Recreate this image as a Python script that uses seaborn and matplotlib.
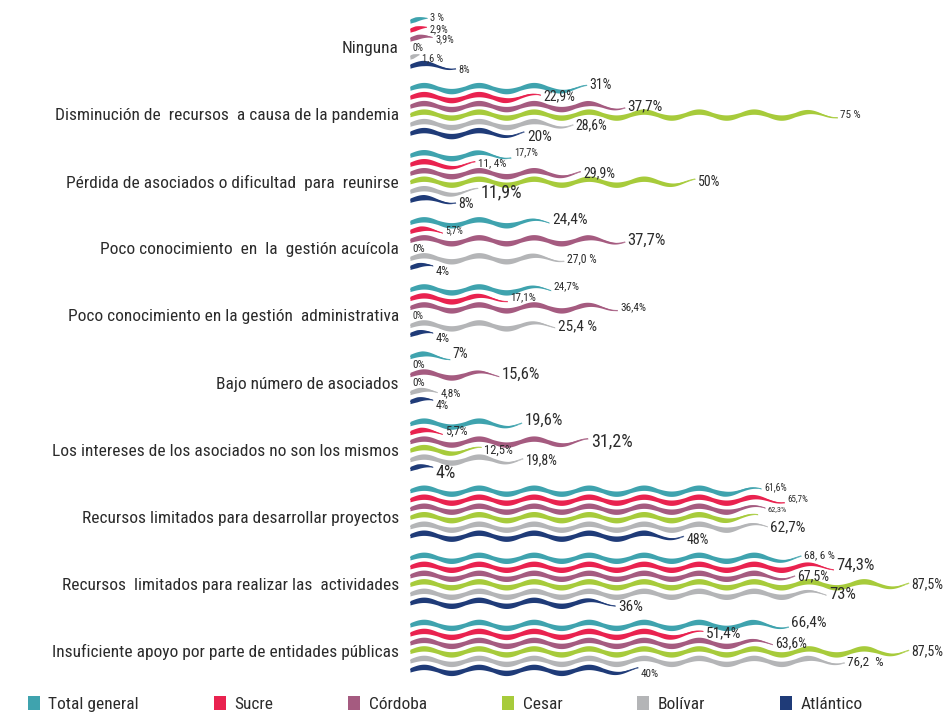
import numpy as np
import pandas as pd
import matplotlib
matplotlib.use("Agg")
import matplotlib.pyplot as plt
from matplotlib import font_manager
from matplotlib.patches import Patch
import seaborn as sns

# ---------------------------------------------------------------- data
categories = [
    "Ninguna",
    "Disminución de  recursos  a causa de la pandemia",
    "Pérdida de asociados o dificultad  para  reunirse",
    "Poco conocimiento  en  la  gestión acuícola",
    "Poco conocimiento en la gestión  administrativa",
    "Bajo número de asociados",
    "Los intereses de los asociados no son los mismos",
    "Recursos limitados para desarrollar proyectos",
    "Recursos  limitados para realizar las  actividades",
    "Insuficiente apoyo por parte de entidades públicas",
]
series = ["Total general", "Sucre", "Córdoba", "Cesar", "Bolívar", "Atlántico"]

total_general = [3, 31, 17.7, 24.4, 24.7, 7, 19.6, 61.6, 68.6, 66.4]
sucre = [2.9, 22.9, 11.4, 5.7, 17.1, 0, 5.7, 65.7, 74.3, 51.4]
cordoba = [3.9, 37.7, 29.9, 37.7, 36.4, 15.6, 31.2, 62.3, 67.5, 63.6]
cesar = [0, 75, 50, 0, 0, 0, 12.5, 61.0, 87.5, 87.5]
bolivar = [1.6, 28.6, 11.9, 27.0, 25.4, 4.8, 19.8, 62.7, 73, 76.2]
atlantico = [8, 20, 8, 4, 4, 4, 4, 48, 36, 40]

total_labels = ["3 %", "31%", "17,7%", "24,4%", "24,7%", "7%", "19,6%", "61,6%", "68, 6 %", "66,4%"]
sucre_labels = ["2,9%", "22,9%", "11, 4%", "5,7%", "17,1%", "0%", "5,7%", "65,7%", "74,3%", "51,4%"]
cordoba_labels = ["3,9%", "37,7%", "29,9%", "37,7%", "36,4%", "15,6%", "31,2%", "62,3%", "67,5%", "63,6%"]
cesar_labels = ["0%", "75 %", "50%", "0%", "0%", "0%", "12,5%", "", "87,5%", "87,5%"]
bolivar_labels = ["1,6 %", "28,6%", "11,9%", "27,0 %", "25,4 %", "4,8%", "19,8%", "62,7%", "73%", "76,2  %"]
atlantico_labels = ["8%", "20%", "8%", "4%", "4%", "4%", "4%", "48%", "36%", "40%"]

values = [total_general, sucre, cordoba, cesar, bolivar, atlantico]
labels = [total_labels, sucre_labels, cordoba_labels, cesar_labels, bolivar_labels, atlantico_labels]

# ---------------------------------------------------------------- style
colors = ["#3fa3ae", "#e9224f", "#a55b80", "#a7cb3b", "#b4b5b7", "#1f3b78"]

# font size (pt) of each value label, per series and category
label_pt = [
    [7.5, 10, 7.5, 11, 8, 10, 12, 7, 8, 11],
    [7.5, 10, 8, 7, 8, 8, 9, 6.5, 12, 11],
    [7.5, 11, 10, 12, 8, 12, 13, 6, 10, 10],
    [7, 8, 10, 8, 7, 8, 9, 8, 10, 10],
    [7.5, 10, 13, 8.5, 11, 8, 10, 11, 12, 9.5],
    [7.5, 11, 10, 9, 9, 8.5, 13, 10, 11, 8],
]
# vertical shift (px, downwards) of the value labels of each series
label_shift_px = [-3, -1, 0, 0, 1, 4]

sns.set_theme(style="white")
avail = {f.name for f in font_manager.fontManager.ttflist}
family = next((f for f in ["Liberation Sans Narrow", "Roboto Condensed", "DejaVu Sans"] if f in avail), "DejaVu Sans")
plt.rcParams["font.family"] = [family, "DejaVu Sans"]
text_color = "#2b2b2b"

W, H, DPI = 944, 720, 100
fig = plt.figure(figsize=(W / DPI, H / DPI), dpi=DPI)

# plotting area: from the left edge of the bars to the right edge, top of figure down to the legend strip
ax_left, ax_bottom_px = 410, 40
ax = fig.add_axes([ax_left / W, ax_bottom_px / H, 1 - ax_left / W, 1 - ax_bottom_px / H])

px_per_pct = 5.7
group_px = 67.1
first_center_px = 47
axes_h_px = H - ax_bottom_px
xmax = (W - ax_left) / px_per_pct
y_top = -first_center_px / group_px
y_bot = (axes_h_px - first_center_px) / group_px

offsets_px = [-26, -17, -8, 0.5, 10, 19]
period_px = 55.0
amp_px = 3.0
half_w_px = 2.7

rows = []
for si, (vals, labs) in enumerate(zip(values, labels)):
    for ci, v in enumerate(vals):
        yc = ci + offsets_px[si] / group_px
        if v > 0:
            L = v * px_per_pct
            s = np.linspace(0, L, max(int(L * 2), 20))
            phase = np.sin(2 * np.pi * s / period_px)
            yline = yc - amp_px * phase / group_px
            taper_len = min(38.0, 0.7 * L)
            taper = np.clip((L - s) / taper_len, 0.08, 1.0) ** 0.9
            hw = half_w_px * (0.8 + 0.2 * np.abs(phase)) * taper / group_px
            x = s / px_per_pct
            ax.fill_between(x, yline - hw, yline + hw, color=colors[si], lw=0, zorder=2)
            rows.append(pd.DataFrame({"x": x, "y": yline, "serie": series[si], "cat": ci}))
        if labs[ci]:
            ax.text(v + 0.5, yc + label_shift_px[si] / group_px, labs[ci], fontsize=label_pt[si][ci],
                    color=text_color, ha="left", va="center", zorder=3)

waves = pd.concat(rows, ignore_index=True)
sns.lineplot(data=waves, x="x", y="y", hue="serie", units="cat", estimator=None,
             sort=False, palette=dict(zip(series, colors)), linewidth=0.6,
             legend=False, ax=ax, zorder=2)

ax.set_yticks(range(len(categories)))
ax.set_yticklabels(categories, fontsize=12.5, color=text_color)
ax.tick_params(axis="y", length=0, pad=8)
ax.set_xticks([])
ax.set_xlabel("")
ax.set_ylabel("")
ax.set_xlim(0, xmax)
ax.set_ylim(y_bot, y_top)
sns.despine(ax=ax, left=True, bottom=True)

handles = [Patch(facecolor=c, edgecolor="none") for c in colors]
fig.legend(handles, series, loc="center left", bbox_to_anchor=(12 / W, 1 - 704 / H),
           ncol=6, frameon=False, fontsize=12.5, handlelength=0.7, handleheight=0.9,
           handletextpad=0.5, columnspacing=4.3, labelcolor=text_color)

fig.savefig("out.png", dpi=DPI)
